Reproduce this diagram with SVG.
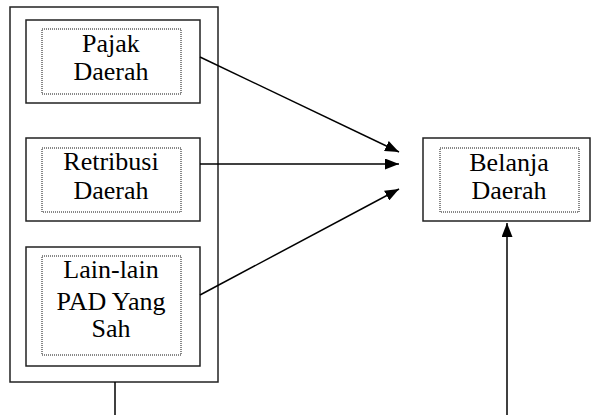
<svg xmlns="http://www.w3.org/2000/svg" width="592" height="415" viewBox="0 0 592 415">
<style>
.box{fill:none;stroke:#222;stroke-width:1.5}
.dot{fill:none;stroke:#111;stroke-width:1;stroke-dasharray:1 1}
.t{font-family:"Liberation Serif","Times New Roman",serif;font-size:26px;fill:#000;text-anchor:middle}
.c{stroke:#000;stroke-width:1.5;fill:none}
</style>
<defs>
<marker id="ah" viewBox="0 0 14 11" refX="14" refY="5.5" markerWidth="14" markerHeight="11" markerUnits="userSpaceOnUse" orient="auto">
<path d="M0,0 L14,5.5 L0,11 Z" fill="#000"/>
</marker>
</defs>
<rect id="outer" class="box" x="10" y="7" width="208" height="375"/>
<g id="pajak">
<rect class="box" x="26" y="20" width="174" height="83"/>
<rect class="dot" x="42" y="29" width="139" height="65"/>
<text class="t" x="111" y="52">Pajak</text>
<text class="t" x="111" y="80">Daerah</text>
</g>
<g id="retribusi">
<rect class="box" x="26" y="138" width="174" height="83"/>
<rect class="dot" x="42" y="148" width="139" height="64"/>
<text class="t" x="111" y="170">Retribusi</text>
<text class="t" x="111" y="199">Daerah</text>
</g>
<g id="lain">
<rect class="box" x="26" y="247" width="174" height="119"/>
<rect class="dot" x="42" y="256" width="139" height="99"/>
<text class="t" x="111" y="278">Lain-lain</text>
<text class="t" x="111" y="310">PAD Yang</text>
<text class="t" x="111" y="337">Sah</text>
</g>
<g id="belanja">
<rect class="box" x="423" y="138" width="167" height="83"/>
<rect class="dot" x="440" y="148" width="139" height="64"/>
<text class="t" x="509" y="171">Belanja</text>
<text class="t" x="509" y="199">Daerah</text>
</g>
<g id="connectors">
<line class="c" x1="200" y1="57" x2="399" y2="152" marker-end="url(#ah)"/>
<line class="c" x1="200" y1="164" x2="399" y2="164" marker-end="url(#ah)"/>
<line class="c" x1="200" y1="295" x2="399" y2="189" marker-end="url(#ah)"/>
<line class="c" x1="115" y1="382" x2="115" y2="415"/>
<line class="c" x1="507" y1="415" x2="507" y2="223" marker-end="url(#ah)"/>
</g>
</svg>
